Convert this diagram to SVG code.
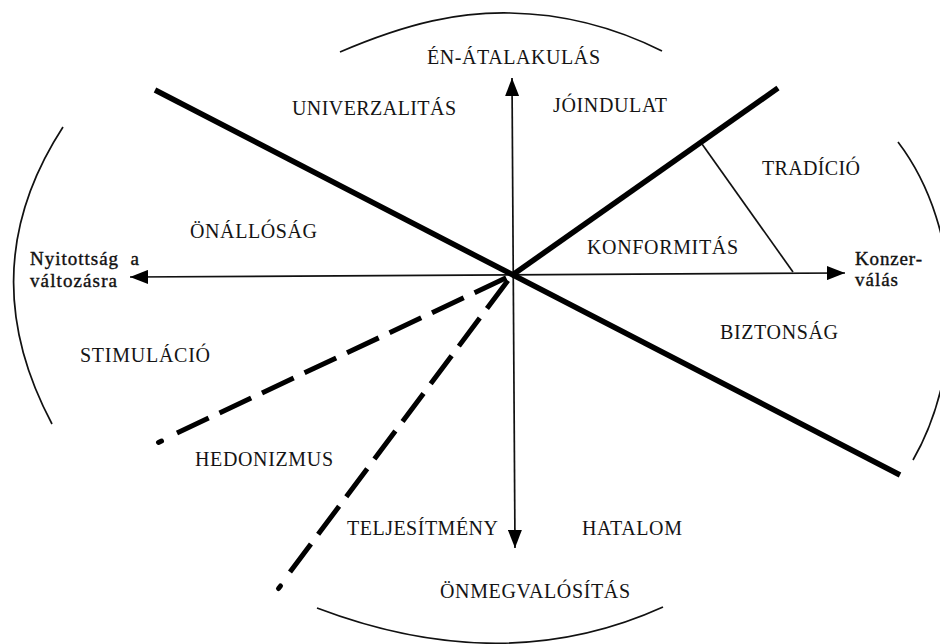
<svg xmlns="http://www.w3.org/2000/svg" width="940" height="644" viewBox="0 0 940 644">
<style>
.lbl{font-family:"Liberation Serif","Times New Roman",serif;font-size:20px;fill:#141414}
.sm{font-family:"Liberation Serif","Times New Roman",serif;font-size:19px;fill:#111;stroke:#111;stroke-width:0.4}
.thin{stroke:#111;stroke-width:1.7;fill:none}
.heavy{stroke:#000;stroke-width:5.5;fill:none}
.dash{stroke:#000;stroke-width:5;fill:none;stroke-dasharray:35 12}
.dot{stroke:#000;stroke-width:5;stroke-linecap:round;fill:none}
</style>
<defs>
<marker id="ah" markerUnits="userSpaceOnUse" markerWidth="18" markerHeight="14" refX="18" refY="7" orient="auto-start-reverse">
<path d="M0,0 L18,7 L0,14 z" fill="#000"/>
</marker>
</defs>
<rect width="940" height="644" fill="#fff"/>
<g id="boundaries">
<path class="thin" d="M340,52 C410,22 460,12 510,13 C570,14 620,30 662,51"/>
<path class="thin" d="M317,608 Q504,679 663,607"/>
<path class="thin" d="M63,127 Q-30,270 52,424"/>
<path class="thin" d="M898,142 C965,230 965,370 913,460"/>
</g>
<g id="connectors">
<line class="thin" x1="512" y1="78" x2="515" y2="548" marker-start="url(#ah)" marker-end="url(#ah)"/>
<line class="thin" x1="130" y1="277" x2="845" y2="273" marker-start="url(#ah)" marker-end="url(#ah)"/>
<line class="heavy" x1="155" y1="90" x2="900" y2="475"/>
<line class="heavy" x1="511" y1="276" x2="778" y2="88"/>
<line class="thin" x1="702" y1="144" x2="793" y2="272"/>
<line class="dash" x1="177" y1="433" x2="512" y2="275"/>
<line class="dot" x1="158.5" y1="442.5" x2="161.5" y2="441"/>
<line class="dash" x1="290" y1="572" x2="512" y2="275"/>
<line class="dot" x1="278.5" y1="588.5" x2="280.5" y2="586"/>
</g>
<g id="n-en-atalakulas"><text class="lbl" x="427" y="64" textLength="173" lengthAdjust="spacing">ÉN-ÁTALAKULÁS</text></g>
<g id="n-univerzalitas"><text class="lbl" x="292" y="115" textLength="164" lengthAdjust="spacing">UNIVERZALITÁS</text></g>
<g id="n-joindulat"><text class="lbl" x="553" y="112" textLength="114" lengthAdjust="spacing">JÓINDULAT</text></g>
<g id="n-tradicio"><text class="lbl" x="762" y="175" textLength="98" lengthAdjust="spacing">TRADÍCIÓ</text></g>
<g id="n-konformitas"><text class="lbl" x="587" y="254" textLength="151" lengthAdjust="spacing">KONFORMITÁS</text></g>
<g id="n-onallosag"><text class="lbl" x="190" y="238" textLength="127" lengthAdjust="spacing">ÖNÁLLÓSÁG</text></g>
<g id="n-stimulacio"><text class="lbl" x="80" y="362" textLength="130" lengthAdjust="spacing">STIMULÁCIÓ</text></g>
<g id="n-hedonizmus"><text class="lbl" x="195" y="466" textLength="138" lengthAdjust="spacing">HEDONIZMUS</text></g>
<g id="n-teljesitmeny"><text class="lbl" x="347" y="535" textLength="151" lengthAdjust="spacing">TELJESÍTMÉNY</text></g>
<g id="n-hatalom"><text class="lbl" x="582" y="535" textLength="100" lengthAdjust="spacing">HATALOM</text></g>
<g id="n-onmegvalositas"><text class="lbl" x="440" y="598" textLength="190" lengthAdjust="spacing">ÖNMEGVALÓSÍTÁS</text></g>
<g id="n-biztonsag"><text class="lbl" x="720" y="339" textLength="118" lengthAdjust="spacing">BIZTONSÁG</text></g>
<g id="n-konzervalas">
<text class="sm" x="855" y="265" textLength="67" lengthAdjust="spacing">Konzer-</text>
<text class="sm" x="855" y="286" textLength="43" lengthAdjust="spacing">válás</text>
</g>
<g id="n-nyitottsag">
<text class="sm" x="30" y="265" textLength="109" lengthAdjust="spacing" xml:space="preserve">Nyitottság  a</text>
<text class="sm" x="30" y="287" textLength="87" lengthAdjust="spacing">változásra</text>
</g>
</svg>
